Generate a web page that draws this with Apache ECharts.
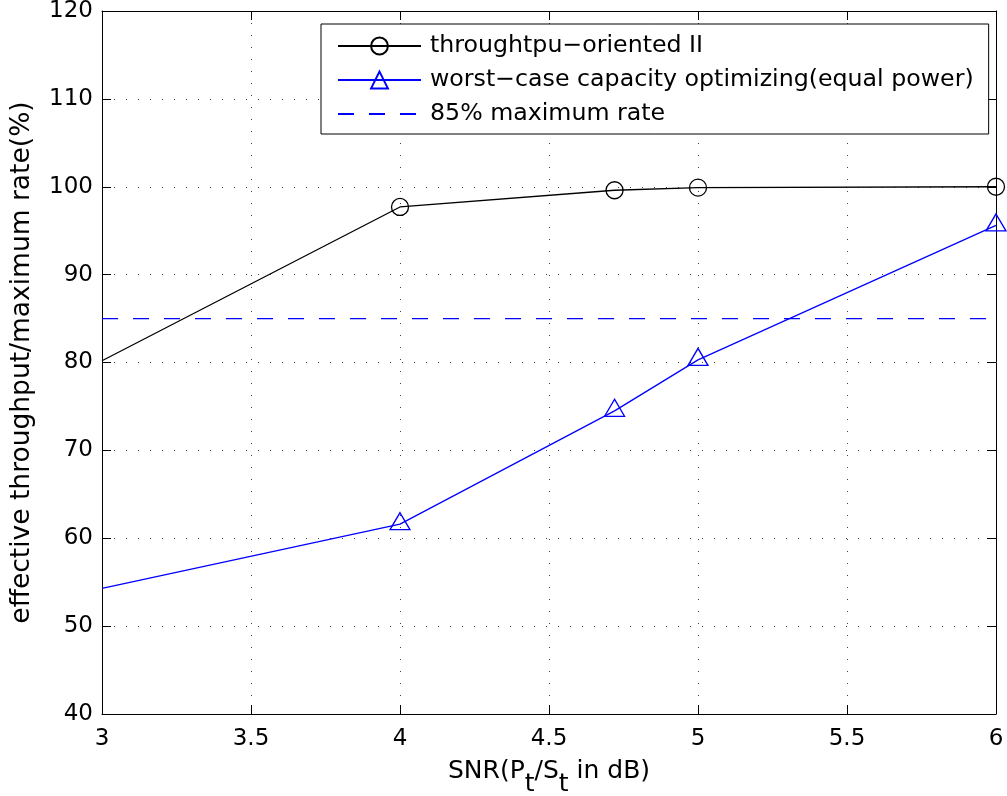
<!DOCTYPE html>
<html><head><meta charset="utf-8">
<script src="https://cdn.jsdelivr.net/npm/echarts@6/dist/echarts.min.js"></script>
<style>html,body{margin:0;padding:0;background:#fff}#c{width:1007px;height:796px}</style>
</head><body><div id="c"></div>
<script>
// ---- data ----
const seriesNames = ['throughtpu\u2212oriented II', 'worst\u2212case capacity optimizing(equal power)', '85% maximum rate'];
const snrThroughput = [3, 4, 4.72, 5, 6];
const throughputOriented = [80.2, 97.7, 99.6, 99.9, 100.0];
const throughputMarker = [false, true, true, true, true];
const snrWorstCase = [3, 4, 4.72, 5, 6];
const worstCase = [54.3, 61.6, 74.5, 80.3, 95.6];
const worstCaseMarker = [false, true, true, true, true];
const maxRateX = [3, 6];
const maxRate85 = [85, 85];
const xTickValues = [3, 3.5, 4, 4.5, 5, 5.5, 6];
const xTickLabels = ['3', '3.5', '4', '4.5', '5', '5.5', '6'];
const yTickValues = [40, 50, 60, 70, 80, 90, 100, 110, 120];
const yTickLabels = ['40', '50', '60', '70', '80', '90', '100', '110', '120'];

const FONT = 'DejaVu Sans';
const chart = echarts.init(document.getElementById('c'), null, {renderer: 'canvas'});

function lab(vals, labs) {
  return v => { const i = vals.findIndex(t => Math.abs(t - v) < 1e-9); return i >= 0 ? labs[i] : ''; };
}
const xMin = xTickValues[0], xMax = xTickValues[xTickValues.length - 1];
const yMin = yTickValues[0], yMax = yTickValues[yTickValues.length - 1];
const axisLine = {show: true, onZero: false, lineStyle: {color: '#000', width: 1}};
const axisTick = {show: true, inside: true, length: 9, lineStyle: {color: '#000', width: 1}};
const splitLine = {show: true, lineStyle: {color: '#444', width: 1, type: [1, 11]}};

chart.setOption({
  animation: false,
  backgroundColor: '#fff',
  grid: {left: 102, right: 11, top: 11, bottom: 82, containLabel: false, outerBoundsMode: 'none'},
  xAxis: [
    {
      type: 'value', min: xMin, max: xMax, interval: 0.5, position: 'bottom',
      axisLine, axisTick, splitLine,
      axisLabel: {color: '#000', fontSize: 23, fontFamily: FONT, margin: 14, formatter: lab(xTickValues, xTickLabels)},
      name: '{m|SNR(P}{s|t}{m|/S}{s|t}{m| in dB)}',
      nameLocation: 'middle', nameGap: 45,
      nameTextStyle: {
        rich: {
          m: {fontSize: 25, fontFamily: FONT, color: '#000', verticalAlign: 'top', lineHeight: 26},
          s: {fontSize: 25, fontFamily: FONT, color: '#000', verticalAlign: 'top', lineHeight: 26, padding: [13, 0, 0, 0]}
        }
      }
    },
    {
      type: 'value', min: xMin, max: xMax, interval: 0.5, position: 'top',
      axisLine, axisTick, axisLabel: {show: false}, splitLine: {show: false}
    }
  ],
  yAxis: [
    {
      type: 'value', min: yMin, max: yMax, interval: 10, position: 'left',
      axisLine, axisTick, splitLine,
      axisLabel: {color: '#000', fontSize: 23, fontFamily: FONT, margin: 9, formatter: lab(yTickValues, yTickLabels)},
      name: 'effective throughput/maximum rate(%)',
      nameLocation: 'middle', nameGap: 66,
      nameTextStyle: {fontSize: 26.5, fontFamily: FONT, color: '#000'}
    },
    {
      type: 'value', min: yMin, max: yMax, interval: 10, position: 'right',
      axisLine, axisTick, axisLabel: {show: false}, splitLine: {show: false}
    }
  ],
  legend: {
    orient: 'vertical', left: 321, top: 24,
    backgroundColor: '#fff', borderColor: '#000', borderWidth: 1, borderRadius: 0,
    padding: [10, 15, 8, 16],
    itemWidth: 83, itemHeight: 21, itemGap: 10,
    selectedMode: false,
    textStyle: {fontSize: 23.7, fontFamily: FONT, color: '#000', lineHeight: 24, padding: [0, 0, 0, 4]},
    data: [
      {name: seriesNames[0]},
      {name: seriesNames[1]},
      {name: seriesNames[2], itemStyle: {color: 'transparent', borderWidth: 0, borderColor: 'transparent'}}
    ]
  },
  series: [
    {
      name: seriesNames[0], type: 'line', xAxisIndex: 0, yAxisIndex: 0,
      data: snrThroughput.map((x, i) => ({value: [x, throughputOriented[i]], symbol: throughputMarker[i] ? 'circle' : 'none'})),
      symbol: 'circle', symbolSize: 17, showSymbol: true, clip: false,
      lineStyle: {color: '#000', width: 1.3},
      itemStyle: {color: 'transparent', borderColor: '#000', borderWidth: 1.3},
      emphasis: {disabled: true}, z: 3
    },
    {
      name: seriesNames[1], type: 'line', xAxisIndex: 0, yAxisIndex: 0,
      data: snrWorstCase.map((x, i) => ({value: [x, worstCase[i]], symbol: worstCaseMarker[i] ? 'triangle' : 'none'})),
      symbol: 'triangle', symbolSize: [20, 17], symbolOffset: [0, -3], showSymbol: true, clip: false,
      lineStyle: {color: '#0000ff', width: 1.3},
      itemStyle: {color: 'transparent', borderColor: '#0000ff', borderWidth: 1.3},
      emphasis: {disabled: true}, z: 3
    },
    {
      name: seriesNames[2], type: 'line', xAxisIndex: 0, yAxisIndex: 0,
      data: maxRateX.map((x, i) => [x, maxRate85[i]]),
      symbol: 'none', showSymbol: false,
      lineStyle: {color: '#0000ff', width: 1.3, type: [16, 15]},
      itemStyle: {color: '#0000ff'},
      emphasis: {disabled: true}, z: 2
    }
  ]
});
</script>
</body></html>
